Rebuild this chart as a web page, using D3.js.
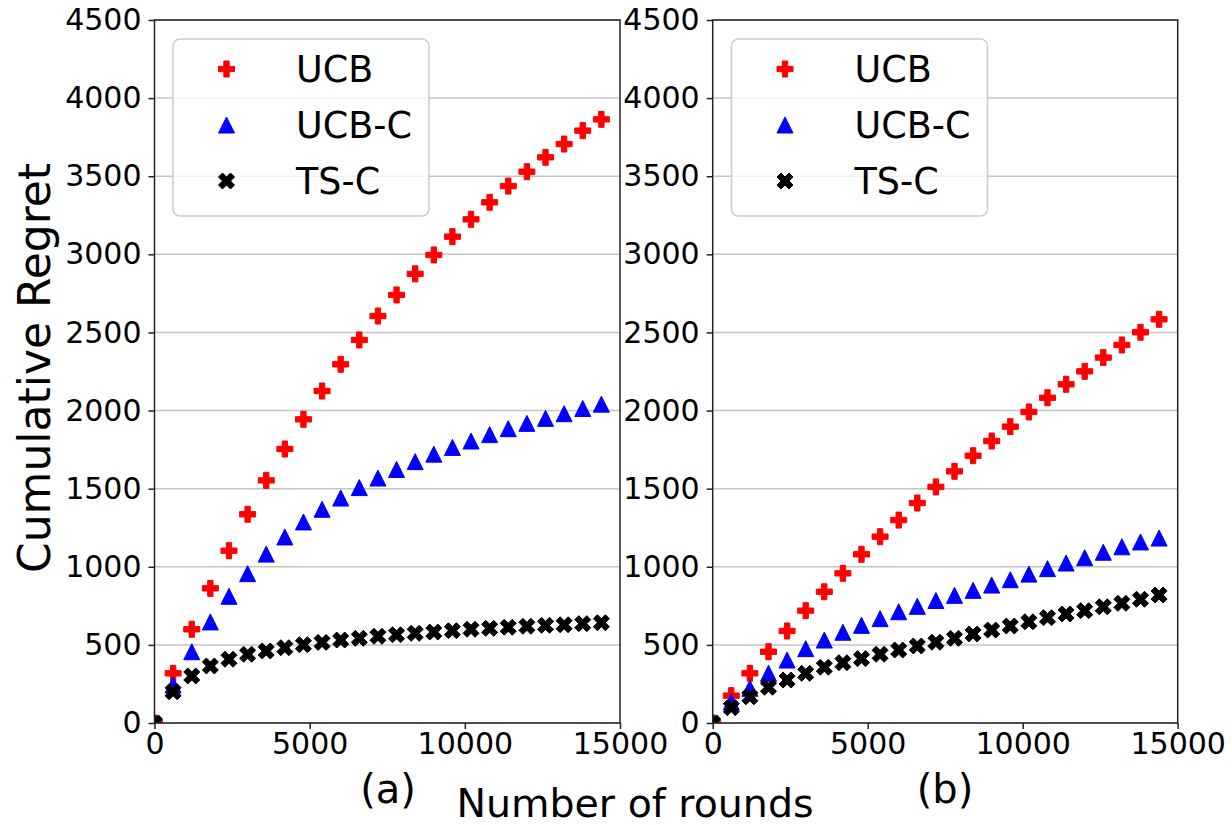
<!DOCTYPE html>
<html>
<head>
<meta charset="utf-8">
<script src="https://cdn.jsdelivr.net/npm/d3@7"></script>
<style>
  body { margin: 0; background: #fff; }
  svg { display: block; font-family: "DejaVu Sans", sans-serif; }
</style>
</head>
<body>
<div id="chart"></div>
<script>
// x positions of the sampled rounds
const rounds = [0, 600, 1200, 1800, 2400, 3000, 3600, 4200, 4800, 5400, 6000, 6600,
  7200, 7800, 8400, 9000, 9600, 10200, 10800, 11400, 12000, 12600, 13200, 13800, 14400];

// panel (a)
const ucbA = [0, 318, 600, 862, 1103, 1336, 1553, 1754, 1944, 2125, 2296, 2452,
  2605, 2740, 2875, 2996, 3113, 3224, 3333, 3437, 3529, 3621, 3706, 3792, 3864];
const ucbcA = [0, 243, 456, 647, 811, 956, 1081, 1191, 1287, 1368, 1440, 1507,
  1568, 1623, 1673, 1721, 1764, 1805, 1846, 1884, 1918, 1950, 1980, 2013, 2041];
const tscA = [0, 200, 301, 365, 408, 440, 461, 482, 501, 516, 531, 542,
  555, 565, 574, 582, 591, 600, 606, 613, 619, 625, 629, 636, 642];

// panel (b)
const ucbB = [0, 175, 318, 456, 589, 719, 840, 958, 1080, 1193, 1299, 1408,
  1511, 1611, 1711, 1805, 1897, 1991, 2082, 2168, 2251, 2339, 2420, 2501, 2584];
const ucbcB = [0, 135, 222, 318, 403, 476, 531, 581, 625, 668, 712, 747,
  784, 817, 849, 883, 917, 953, 988, 1024, 1058, 1093, 1128, 1159, 1184];
const tscB = [0, 98, 168, 229, 275, 318, 357, 386, 412, 440, 467, 493,
  517, 542, 570, 595, 621, 648, 674, 698, 719, 744, 766, 792, 819];

const seriesNames = ["UCB", "UCB-C", "TS-C"];
const seriesColors = ["#ff0000", "#0000ff", "#000000"];
const yTicks = [0, 500, 1000, 1500, 2000, 2500, 3000, 3500, 4000, 4500];
const xTicks = [0, 5000, 10000, 15000];
const panelLabels = ["(a)", "(b)"];

const width = 1232, height = 825;

// marker shapes (matplotlib P, ^, X), unit size
const plusPts = [[-1,-3],[-1,-1],[-3,-1],[-3,1],[-1,1],[-1,3],[1,3],[1,1],[3,1],[3,-1],[1,-1],[1,-3]].map(p => [p[0]/6, p[1]/6]);
const triPts = [[0,-1],[-1,1],[1,1]].map(p => [p[0]/2, p[1]/2]);
const xPts = [[-1,-2],[0,-1],[1,-2],[2,-1],[1,0],[2,1],[1,2],[0,1],[-1,2],[-2,1],[-1,0],[-2,-1]].map(p => [p[0]/4, p[1]/4]);
const shapes = [plusPts, triPts, xPts];
const markerSize = 16;
const shapePath = (pts, s) => "M" + pts.map(p => `${p[0]*s},${p[1]*s}`).join("L") + "Z";

const svg = d3.select("#chart").append("svg")
  .attr("width", width)
  .attr("height", height);

const plotTop = 20, plotBottom = 723;
const y = d3.scaleLinear().domain([0, 4500]).range([plotBottom, plotTop]);

const panels = [
  { left: 154.5, right: 620, data: [ucbA, ucbcA, tscA], label: panelLabels[0], legendX: 173, labelX: 388 },
  { left: 712.7, right: 1177.7, data: [ucbB, ucbcB, tscB], label: panelLabels[1], legendX: 731.5, labelX: 945 }
];

const defs = svg.append("defs");

panels.forEach((p, pi) => {
  const x = d3.scaleLinear().domain([0, 15000]).range([p.left, p.right]);
  const g = svg.append("g");

  // markers are clipped to the axes area, like matplotlib
  defs.append("clipPath")
    .attr("id", "clip" + pi)
    .append("rect")
    .attr("x", p.left).attr("y", plotTop)
    .attr("width", p.right - p.left).attr("height", plotBottom - plotTop);

  // grid
  g.append("g")
    .selectAll("line")
    .data(yTicks)
    .join("line")
    .attr("x1", p.left).attr("x2", p.right)
    .attr("y1", d => y(d)).attr("y2", d => y(d))
    .attr("stroke", "#c4c4c4")
    .attr("stroke-width", 1.5);

  // markers
  const mg = g.append("g").attr("clip-path", `url(#clip${pi})`);
  p.data.forEach((vals, si) => {
    mg.append("g")
      .selectAll("path")
      .data(vals)
      .join("path")
      .attr("transform", (d, i) => `translate(${x(rounds[i])},${y(d)})`)
      .attr("d", shapePath(shapes[si], markerSize))
      .attr("fill", seriesColors[si])
      .attr("stroke", seriesColors[si])
      .attr("stroke-width", 1)
      .attr("stroke-linejoin", "miter");
  });

  // frame
  g.append("rect")
    .attr("x", p.left).attr("y", plotTop)
    .attr("width", p.right - p.left).attr("height", plotBottom - plotTop)
    .attr("fill", "none")
    .attr("stroke", "#222")
    .attr("stroke-width", 1.5);

  // axes
  const ya = g.append("g")
    .attr("transform", `translate(${p.left},0)`)
    .call(d3.axisLeft(y).tickValues(yTicks).tickSize(6).tickPadding(7).tickFormat(d3.format("d")));
  const xa = g.append("g")
    .attr("transform", `translate(0,${plotBottom})`)
    .call(d3.axisBottom(x).tickValues(xTicks).tickSize(6).tickPadding(4).tickFormat(d3.format("d")));
  [ya, xa].forEach(a => {
    a.select(".domain").remove();
    a.selectAll(".tick line").attr("stroke", "#222").attr("stroke-width", 1.5);
    a.selectAll(".tick text").attr("fill", "#000").attr("font-size", 30).attr("font-family", "DejaVu Sans");
  });

  // legend
  const lg = g.append("g").attr("transform", `translate(${p.legendX},39)`);
  lg.append("rect")
    .attr("width", 256).attr("height", 177)
    .attr("rx", 7)
    .attr("fill", "#fff").attr("fill-opacity", 0.8)
    .attr("stroke", "#cccccc").attr("stroke-width", 1.5);
  seriesNames.forEach((name, si) => {
    const ly = 30 + si * 56;
    lg.append("path")
      .attr("transform", `translate(53.5,${ly})`)
      .attr("d", shapePath(shapes[si], markerSize))
      .attr("fill", seriesColors[si])
      .attr("stroke", seriesColors[si])
      .attr("stroke-width", 1);
    lg.append("text")
      .attr("x", 123).attr("y", ly + 13)
      .attr("font-size", 36.5)
      .attr("fill", "#000")
      .text(name);
  });

  // panel label
  svg.append("text")
    .attr("x", p.labelX).attr("y", 803)
    .attr("text-anchor", "middle")
    .attr("font-size", 40)
    .text(p.label);
});

svg.append("text")
  .attr("transform", "translate(50,368) rotate(-90)")
  .attr("text-anchor", "middle")
  .attr("font-size", 44)
  .text("Cumulative Regret");

svg.append("text")
  .attr("x", 635).attr("y", 817)
  .attr("text-anchor", "middle")
  .attr("font-size", 39.5)
  .text("Number of rounds");
</script>
</body>
</html>
